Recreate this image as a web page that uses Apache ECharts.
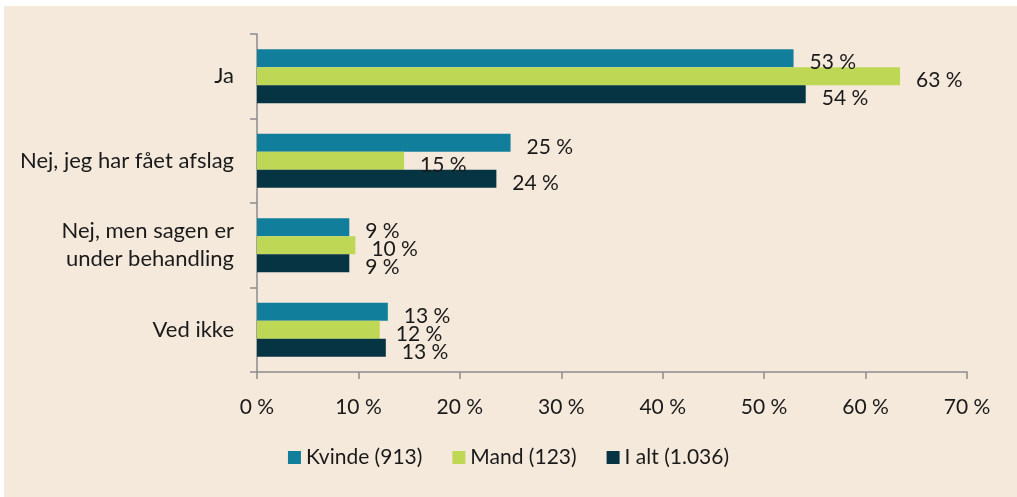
<!DOCTYPE html>
<html>
<head>
<meta charset="utf-8">
<script src="https://cdn.jsdelivr.net/npm/echarts@6/dist/echarts.min.js"></script>
<style>
  html, body { margin: 0; padding: 0; background: #ffffff; }
  #chart { width: 1017px; height: 497px; }
</style>
</head>
<body>
<div id="chart"></div>
<script>
// svar-kategorier (top -> bund)
var categories = ['Ja', 'Nej, jeg har fået afslag', 'Nej, men sagen er\nunder behandling', 'Ved ikke'];

// andele i procent
var kvinde = [52.9, 25.0, 9.1, 12.9];
var mand = [63.4, 14.5, 9.7, 12.1];
var iAlt = [54.1, 23.6, 9.1, 12.7];

var seriesNames = ['Kvinde (913)', 'Mand (123)', 'I alt (1.036)'];
var colors = ['#117f9b', '#bed856', '#063443'];

var xTicks = [0, 10, 20, 30, 40, 50, 60, 70];

var fontFam = 'Lato, "Noto Sans", sans-serif';
var textColor = '#1a1a1a';

var chart = echarts.init(document.getElementById('chart'));

function makeSeries(name, data, color) {
    return {
        name: name,
        type: 'bar',
        data: data,
        barWidth: 18,
        barGap: '0%',
        itemStyle: { color: color },
        label: {
            show: true,
            position: 'right',
            distance: 16,
            offset: [0, 4],
            color: textColor,
            fontFamily: fontFam,
            fontSize: 21,
            formatter: function (p) {
                return Math.round(p.value) + ' %';
            }
        }
    };
}

var option = {
    animation: false,
    backgroundColor: 'transparent',
    color: colors,
    graphic: [{
        type: 'rect',
        z: -10,
        shape: { x: 4, y: 6, width: 1013, height: 491 },
        style: { fill: '#f5e9dc' }
    }],
    grid: {
        left: 257,
        right: 50,
        top: 34,
        bottom: 125,
        containLabel: false
    },
    legend: {
        data: seriesNames,
        bottom: 24,
        left: 'center',
        itemWidth: 13,
        itemHeight: 13,
        itemGap: 30,
        icon: 'rect',
        textStyle: {
            color: textColor,
            fontFamily: fontFam,
            fontSize: 21
        }
    },
    xAxis: {
        type: 'value',
        min: 0,
        max: 70,
        interval: 10,
        splitLine: { show: false },
        axisLine: { show: true, lineStyle: { color: '#8c8c8c', width: 1.5 } },
        axisTick: { show: true, length: 7, lineStyle: { color: '#8c8c8c', width: 1.5 } },
        axisLabel: {
            color: textColor,
            fontFamily: fontFam,
            fontSize: 21,
            margin: 25,
            formatter: function (v) {
                return xTicks.indexOf(v) >= 0 ? v + ' %' : '';
            }
        }
    },
    yAxis: {
        type: 'category',
        data: categories,
        inverse: true,
        axisLine: { show: true, lineStyle: { color: '#8c8c8c', width: 1.5 } },
        axisTick: { show: true, length: 7, lineStyle: { color: '#8c8c8c', width: 1.5 } },
        axisLabel: {
            color: textColor,
            fontFamily: fontFam,
            fontSize: 22,
            margin: 23,
            lineHeight: 28,
            align: 'right'
        }
    },
    series: [
        makeSeries(seriesNames[0], kvinde, colors[0]),
        makeSeries(seriesNames[1], mand, colors[1]),
        makeSeries(seriesNames[2], iAlt, colors[2])
    ]
};

chart.setOption(option);
</script>
</body>
</html>
